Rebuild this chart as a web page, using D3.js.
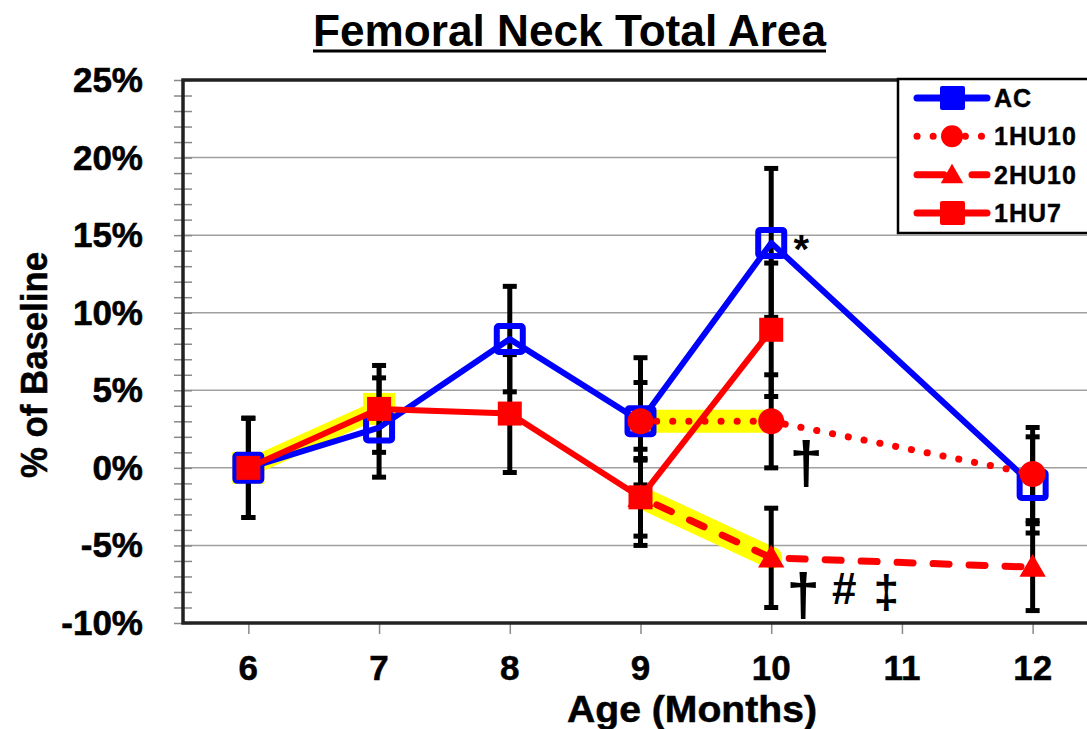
<!DOCTYPE html>
<html>
<head>
<meta charset="utf-8">
<script src="https://cdn.jsdelivr.net/npm/d3@7"></script>
<style>
  body { margin: 0; background: #fff; }
  svg { display: block; }
  .bold { font-family: "Liberation Sans", Arial, sans-serif; font-weight: bold; }
</style>
</head>
<body>
<div id="chart"></div>
<script>
// x categories (months) and y ticks
const months = [6, 7, 8, 9, 10, 11, 12];
const yTicks = [-10, -5, 0, 5, 10, 15, 20, 25];

// AC
const acAge = [6, 7, 8, 9, 10, 12];
const acVal = [0, 2.6, 8.3, 3.0, 14.5, -1.1];
const acErr = [3.2, 3.2, 3.4, 4.1, 4.8, 3.1];

// 1HU10
const hu10aAge = [9, 10, 12];
const hu10aVal = [3.0, 3.0, -0.4];
const hu10aErr = [2.5, 3.0, 3.0];

// 2HU10
const hu10bAge = [9, 10, 12];
const hu10bVal = [-1.9, -5.8, -6.4];
const hu10bErr = [3.1, 3.2, 2.8];

// 1HU7
const hu7Age = [6, 7, 8, 9, 10];
const hu7Val = [0, 3.8, 3.5, -1.9, 8.9];
const hu7Err = [3.2, 2.8, 3.8, 2.5, 4.3];

// 高亮区段 [起点, 终点]
const hlHu7 = [6, 7];
const hlHu10a = [9, 10];
const hlHu10b = [9, 10];

const width = 1087, height = 729;
const margin = { top: 80, right: -11, bottom: 106, left: 183 };

const svg = d3.select('#chart').append('svg')
  .attr('width', width)
  .attr('height', height);

const x = d3.scaleLinear().domain([5.5, 12.5]).range([margin.left, width - margin.right]);
const y = d3.scaleLinear().domain([-10, 25]).range([height - margin.bottom, margin.top]);

// 标题
svg.append('text')
  .attr('class', 'bold')
  .attr('x', 313).attr('y', 46)
  .attr('textLength', 513).attr('lengthAdjust', 'spacingAndGlyphs')
  .style('font-size', '44px')
  .text('Femoral Neck Total Area');
svg.append('line')
  .attr('x1', 313).attr('x2', 826).attr('y1', 51).attr('y2', 51)
  .attr('stroke', '#000').attr('stroke-width', 3);

// 网格线
svg.append('g')
  .selectAll('line')
  .data(yTicks.filter(d => d > -10 && d < 25))
  .join('line')
  .attr('x1', x(5.5)).attr('x2', x(12.5))
  .attr('y1', d => y(d)).attr('y2', d => y(d))
  .attr('stroke', '#a0a0a0').attr('stroke-width', 1.5);

// Y 轴（含次刻度）
const yAxis = svg.append('g')
  .attr('transform', `translate(${x(5.5) + 9},0)`)
  .call(d3.axisLeft(y).ticks(35).tickSize(18).tickFormat(''));
yAxis.select('.domain').remove();
yAxis.selectAll('line').attr('stroke', '#888').attr('stroke-width', 1.5);

svg.append('g')
  .selectAll('text')
  .data(yTicks)
  .join('text')
  .attr('class', 'bold')
  .attr('x', 143)
  .attr('y', d => y(d) + 12)
  .attr('text-anchor', 'end')
  .attr('stroke', '#000').attr('stroke-width', 0.6)
  .style('font-size', '35px')
  .text(d => d + '%');

// X 轴
const xAxis = svg.append('g')
  .attr('transform', `translate(0,${y(-10)})`)
  .call(d3.axisBottom(x).tickValues(months).tickSize(11).tickFormat(''));
xAxis.select('.domain').remove();
xAxis.selectAll('line').attr('stroke', '#888').attr('stroke-width', 1.5);

svg.append('g')
  .selectAll('text')
  .data(months)
  .join('text')
  .attr('class', 'bold')
  .attr('x', d => x(d))
  .attr('y', 680)
  .attr('text-anchor', 'middle')
  .attr('stroke', '#000').attr('stroke-width', 0.5)
  .style('font-size', '35px')
  .text(d => d);

svg.append('text')
  .attr('class', 'bold')
  .attr('x', 692).attr('y', 722)
  .attr('text-anchor', 'middle')
  .attr('textLength', 250).attr('lengthAdjust', 'spacingAndGlyphs')
  .attr('stroke', '#000').attr('stroke-width', 0.5)
  .style('font-size', '36px')
  .text('Age (Months)');

svg.append('text')
  .attr('class', 'bold')
  .attr('transform', 'translate(47,365) rotate(-90)')
  .attr('text-anchor', 'middle')
  .attr('textLength', 226).attr('lengthAdjust', 'spacingAndGlyphs')
  .attr('stroke', '#000').attr('stroke-width', 0.5)
  .style('font-size', '37px')
  .text('% of Baseline');

// 绘图区边框
svg.append('rect')
  .attr('x', x(5.5)).attr('y', y(25))
  .attr('width', x(12.5) - x(5.5)).attr('height', y(-10) - y(25))
  .attr('fill', 'none').attr('stroke', '#222').attr('stroke-width', 3.5);

const zip = (ages, vals, errs) => ages.map((a, i) => ({ age: a, value: vals[i], err: errs[i] }));
const acData = zip(acAge, acVal, acErr);
const hu10aData = zip(hu10aAge, hu10aVal, hu10aErr);
const hu10bData = zip(hu10bAge, hu10bVal, hu10bErr);
const hu7Data = zip(hu7Age, hu7Val, hu7Err);

const line = d3.line().x(d => x(d.age)).y(d => y(d.value));
const plot = svg.append('g');

// 黄色高亮
const addHighlight = (data, range, w, cap) => {
  const seg = data.filter(d => d.age >= range[0] && d.age <= range[1]);
  plot.append('path')
    .datum(seg)
    .attr('d', line)
    .attr('fill', 'none')
    .attr('stroke', '#ffff00')
    .attr('stroke-width', w)
    .attr('stroke-linecap', cap);
};
addHighlight(hu7Data, hlHu7, 18, 'butt');
addHighlight(hu10aData, hlHu10a, 23, 'butt');
addHighlight(hu10bData, hlHu10b, 22, 'round');
plot.selectAll('.hl-box')
  .data(hu7Data.filter(d => d.age >= hlHu7[0] && d.age <= hlHu7[1]))
  .join('rect')
  .attr('x', d => x(d.age) - 16).attr('y', d => y(d.value) - 16)
  .attr('width', 32).attr('height', 32)
  .attr('fill', '#ffff00');

// 误差线
const addErrorBars = (data) => {
  const g = plot.append('g');
  g.selectAll('.eb')
    .data(data)
    .join('line')
    .attr('x1', d => x(d.age)).attr('x2', d => x(d.age))
    .attr('y1', d => y(d.value + d.err)).attr('y2', d => y(d.value - d.err))
    .attr('stroke', '#000').attr('stroke-width', 5);
  g.selectAll('.cap')
    .data(data.flatMap(d => [d.value + d.err, d.value - d.err].map(v => ({ age: d.age, v }))))
    .join('line')
    .attr('x1', d => x(d.age) - 7).attr('x2', d => x(d.age) + 7)
    .attr('y1', d => y(d.v)).attr('y2', d => y(d.v))
    .attr('stroke', '#000').attr('stroke-width', 5);
};
[acData, hu10aData, hu10bData, hu7Data].forEach(addErrorBars);

const symTri = d3.symbol().type(d3.symbolTriangle).size(300);

// AC
plot.append('path').datum(acData).attr('d', line)
  .attr('fill', 'none').attr('stroke', '#0000ff').attr('stroke-width', 6).attr('stroke-linejoin', 'round');
plot.selectAll('.ac-pt').data(acData).join('rect')
  .attr('x', d => x(d.age) - 13).attr('y', d => y(d.value) - 13)
  .attr('width', 26).attr('height', 26).attr('rx', 2)
  .attr('fill', 'none').attr('stroke', '#0000ff').attr('stroke-width', 6);

// 1HU10
plot.append('path').datum(hu10aData).attr('d', line)
  .attr('fill', 'none').attr('stroke', '#ff0000').attr('stroke-width', 7)
  .attr('stroke-dasharray', '0.1 16').attr('stroke-linecap', 'round');
plot.selectAll('.hu10a-pt').data(hu10aData).join('circle')
  .attr('cx', d => x(d.age)).attr('cy', d => y(d.value)).attr('r', 13)
  .attr('fill', '#ff0000');

// 2HU10
plot.append('path').datum(hu10bData).attr('d', line)
  .attr('fill', 'none').attr('stroke', '#ff0000').attr('stroke-width', 7)
  .attr('stroke-dasharray', '16 20').attr('stroke-dashoffset', -18).attr('stroke-linecap', 'round');
plot.selectAll('.hu10b-pt').data(hu10bData).join('path')
  .attr('transform', d => `translate(${x(d.age)},${y(d.value) + 2})`)
  .attr('d', symTri).attr('fill', '#ff0000');

// 1HU7
plot.append('path').datum(hu7Data).attr('d', line)
  .attr('fill', 'none').attr('stroke', '#ff0000').attr('stroke-width', 6).attr('stroke-linejoin', 'round');
plot.selectAll('.hu7-pt').data(hu7Data).join('rect')
  .attr('x', d => x(d.age) - 12).attr('y', d => y(d.value) - 12)
  .attr('width', 24).attr('height', 24)
  .attr('fill', '#ff0000');

// 显著性标记
const notes = [
  { age: 10, value: 14.5, dx: 30, dy: 20, text: '*', size: 40 },
  { age: 10, value: 3.0, dx: 35, dy: 62, text: '†', size: 60 },
  { age: 10, value: -5.8, dx: 32, dy: 57, text: '†', size: 60 },
  { age: 10, value: -5.8, dx: 73, dy: 46, text: '#', size: 44 },
  { age: 10, value: -5.8, dx: 115, dy: 50, text: '‡', size: 46 }
];
svg.append('g').selectAll('text').data(notes).join('text')
  .attr('class', 'bold')
  .attr('x', d => x(d.age) + d.dx).attr('y', d => y(d.value) + d.dy)
  .attr('text-anchor', 'middle')
  .style('font-size', d => d.size + 'px')
  .text(d => d.text);

// 图例
const legendItems = [
  { name: 'AC', dash: null, shape: 'square', color: '#0000ff' },
  { name: '1HU10', dash: '0.1 16', shape: 'circle', color: '#ff0000' },
  { name: '2HU10', dash: '27 28', shape: 'triangle', color: '#ff0000' },
  { name: '1HU7', dash: null, shape: 'square', color: '#ff0000' }
];
const legend = svg.append('g');
legend.append('rect')
  .attr('x', 898).attr('y', 79).attr('width', 200).attr('height', 154)
  .attr('fill', '#fff').attr('stroke', '#000').attr('stroke-width', 2.5);
const rowY = d3.scalePoint().domain(legendItems.map(d => d.name)).range([98, 213]);
const rows = legend.selectAll('.row').data(legendItems).join('g')
  .attr('transform', d => `translate(0,${rowY(d.name)})`);
rows.append('line')
  .attr('x1', 917).attr('x2', 987)
  .attr('stroke', d => d.color).attr('stroke-width', 7)
  .attr('stroke-linecap', 'round')
  .attr('stroke-dasharray', d => d.dash);
rows.filter(d => d.shape === 'square').append('rect')
  .attr('x', 940).attr('y', -12).attr('width', 25).attr('height', 24).attr('rx', 2)
  .attr('fill', d => d.color);
rows.filter(d => d.shape === 'circle').append('circle')
  .attr('cx', 952).attr('r', 11).attr('fill', d => d.color);
rows.filter(d => d.shape === 'triangle').append('path')
  .attr('d', d3.symbol().type(d3.symbolTriangle).size(220))
  .attr('transform', 'translate(952,2)').attr('fill', d => d.color);
rows.append('text')
  .attr('class', 'bold')
  .attr('x', 994).attr('y', 9)
  .attr('stroke', '#000').attr('stroke-width', 0.4)
  .style('font-size', '25px')
  .style('letter-spacing', '1px')
  .text(d => d.name);
</script>
</body>
</html>
